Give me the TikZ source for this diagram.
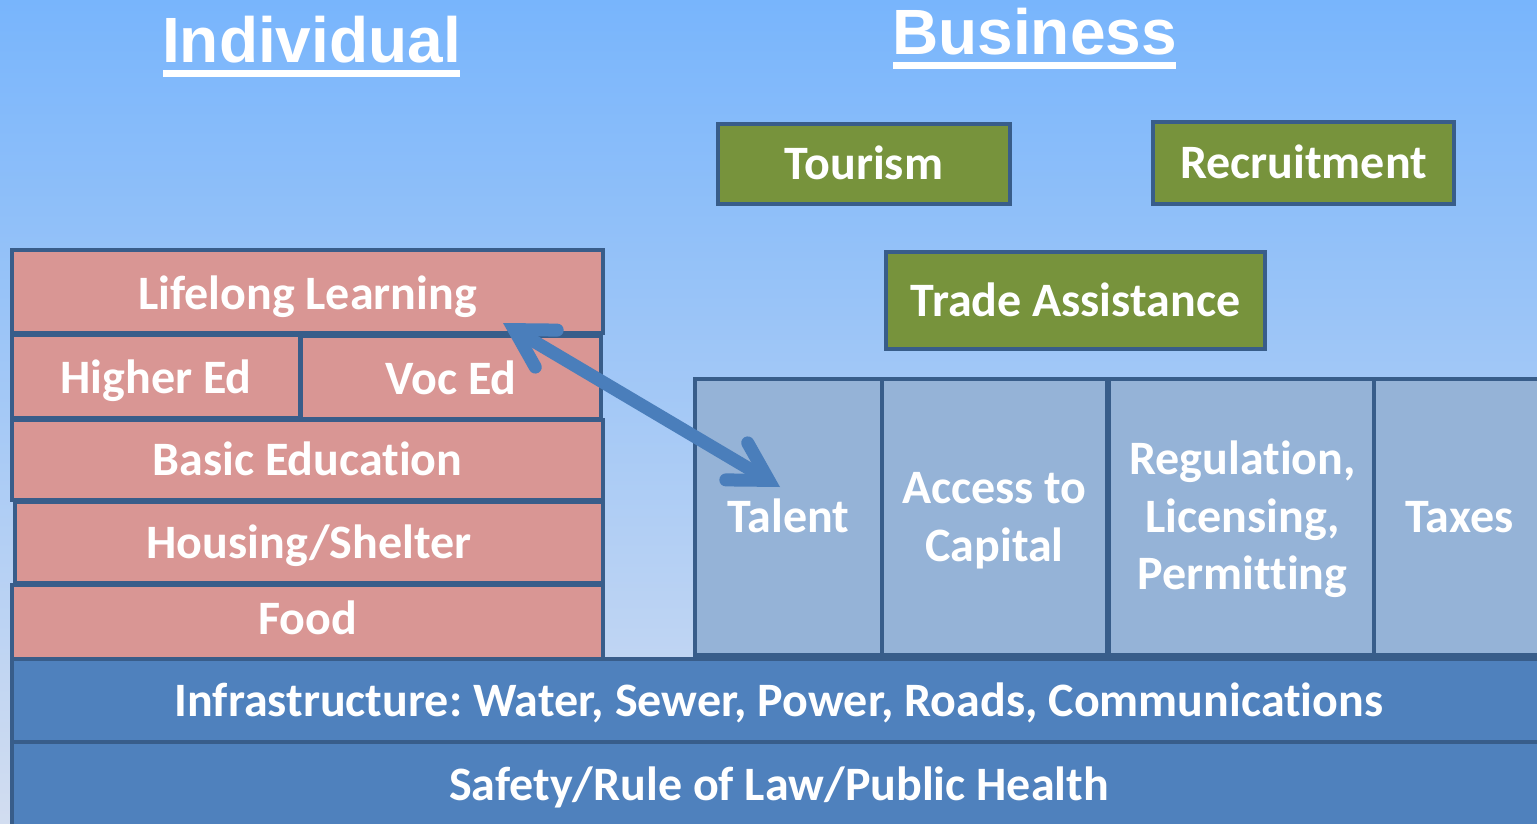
\documentclass[tikz,border=0pt]{standalone}
\usepackage{fontspec}
\setmainfont{Carlito}[Ligatures={NoCommon,NoContextual}]
\newfontfamily\titlefont{Liberation Sans}
\usetikzlibrary{calc}
\frenchspacing
\definecolor{bord}{RGB}{56,93,138}
\definecolor{pinkf}{RGB}{217,150,148}
\definecolor{colf}{RGB}{149,179,215}
\definecolor{basef}{RGB}{79,129,189}
\definecolor{greenf}{RGB}{119,147,60}
\definecolor{arrowc}{RGB}{74,126,187}
\definecolor{bgtop}{RGB}{120,181,252}
\definecolor{bgmid}{RGB}{148,196,249}
\definecolor{bgbot}{RGB}{210,221,240}
\begin{document}
\begin{tikzpicture}[x=1pt,y=-1pt,
  blk/.style={draw=bord, line width=4pt, text=white, inner sep=0pt, align=center,
     font=\fontsize{48}{57.5}\selectfont\bfseries\frenchspacing, text height=31pt, text depth=0pt},
  pinkbox/.style={blk, fill=pinkf},
  colbox/.style={blk, fill=colf},
  basebox/.style={blk, fill=basef},
  greenbox/.style={blk, fill=greenf},
  title/.style={text=white, inner sep=0pt, font=\fontsize{64}{70}\selectfont\titlefont\bfseries,
     text height=46pt, text depth=0pt},
  uline/.style={fill=white},
  arr/.style={draw=arrowc, line width=13pt},
  arrhead/.style={arr, line cap=round, line join=miter, miter limit=10}
]
\useasboundingbox (0,0) rectangle (1537,824);
\shade[top color=bgtop, middle color=bgmid, bottom color=bgbot] (0,0) rectangle (1537,824);

% titles
\node[title] (ind) at (311.5,40) {Individual};
\node[title] (bus) at (1034.5,32) {Business};
\fill[uline] (163,70) rectangle (460,77);
\fill[uline] (893,62) rectangle (1176,69);

% individual stack
\node[pinkbox, minimum width=591pt, minimum height=83pt, text height=35pt] (ll) at (307.5,291.5) {Lifelong Learning};
\node[pinkbox, minimum width=288pt, minimum height=83pt, text height=33pt] (he) at (156,376.5) {Higher Ed};
\node[pinkbox, minimum width=300pt, minimum height=83pt, text height=33pt] (ve) at (451,377.5) {Voc Ed};
\node[pinkbox, minimum width=591pt, minimum height=80pt] (be) at (307.5,460) {Basic Education};
\node[pinkbox, minimum width=588pt, minimum height=81pt] (hs) at (309,542.5) {Housing/Shelter};
\node[pinkbox, minimum width=591pt, minimum height=75pt, text depth=8pt] (fo) at (307.5,622.5) {Food};

% business columns
\node[colbox, minimum width=187pt, minimum height=276pt] (ta) at (788.5,517) {Talent};
\node[colbox, minimum width=225pt, minimum height=276pt, text height=88pt] (ac) at (994.5,517) {Access to\\Capital};
\node[colbox, minimum width=267pt, minimum height=276pt, text height=145pt] (re) at (1242.5,517) {Regulation,\\Licensing,\\Permitting};
\node[colbox, minimum width=171pt, minimum height=276pt] (tx) at (1459.5,517) {Taxes};

% green boxes
\node[greenbox, minimum width=292pt, minimum height=80pt] (to) at (864,164) {Tourism};
\node[greenbox, minimum width=301pt, minimum height=82pt] (rc) at (1303.5,163) {Recruitment};
\node[greenbox, minimum width=379pt, minimum height=97pt] (tr) at (1075.5,300.5) {Trade Assistance};

% base layers
\node[basebox, minimum width=1534pt, minimum height=83pt] (inf) at (779,700.5) {Infrastructure: Water, Sewer, Power, Roads, Communications};
\node[basebox, minimum width=1534pt, minimum height=88pt, text depth=2pt] (saf) at (779,786) {Safety/Rule of Law/Public Health};

% double arrow between Lifelong Learning and Talent
\coordinate (t1) at (503,323);
\coordinate (t2) at (780,487);
\coordinate (v1) at ($(t1)!13pt!(t2)$);
\coordinate (v2) at ($(t2)!13pt!(t1)$);
\draw[arr] (v1) -- (v2);
\draw[arrhead] ($(v1)!43pt!30:(v2)$) -- (v1) -- ($(v1)!43pt!-30:(v2)$);
\draw[arrhead] ($(v2)!43pt!30:(v1)$) -- (v2) -- ($(v2)!43pt!-30:(v1)$);
\end{tikzpicture}
\end{document}
